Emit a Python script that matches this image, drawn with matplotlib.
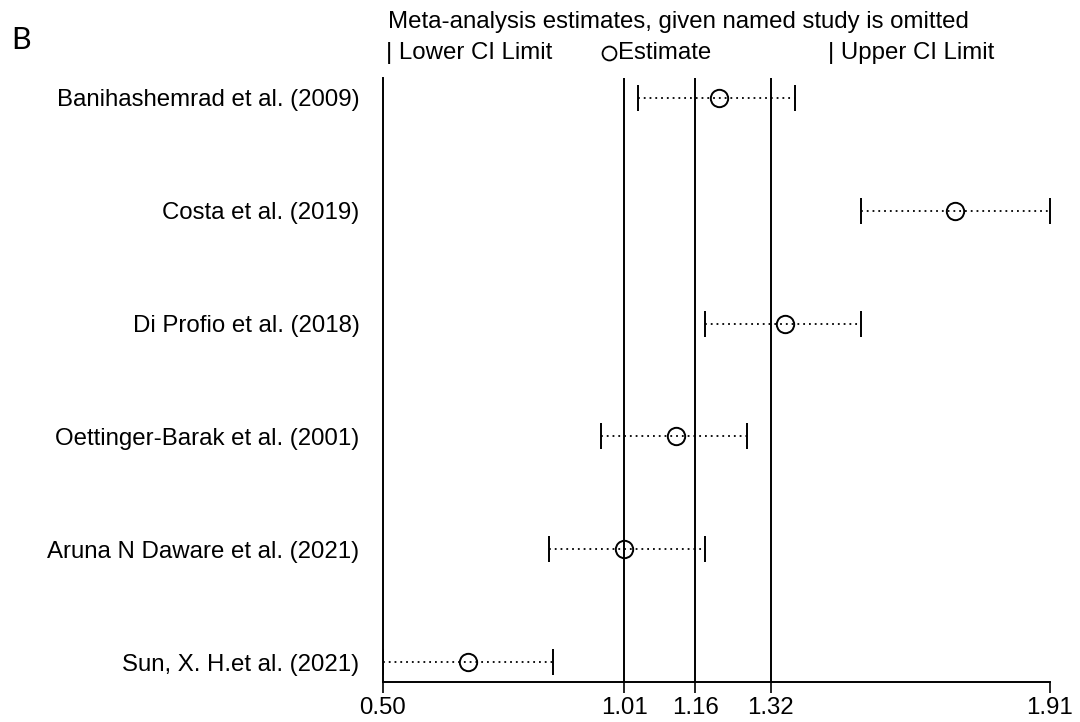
import matplotlib
matplotlib.use("Agg")
import matplotlib.pyplot as plt
from matplotlib.lines import Line2D

studies = ["Banihashemrad et al. (2009)", "Costa et al. (2019)", "Di Profio et al. (2018)",
           "Oettinger-Barak et al. (2001)", "Aruna N Daware et al. (2021)", "Sun, X. H.et al. (2021)"]
lower = [1.04, 1.51, 1.18, 0.96, 0.85, 0.50]
estimate = [1.21, 1.71, 1.35, 1.12, 1.01, 0.68]
upper = [1.37, 1.91, 1.51, 1.27, 1.18, 0.86]
ref_lines = [1.01, 1.16, 1.32]
xticks = [0.50, 1.01, 1.16, 1.32, 1.91]
xticklabels = ["0.50", "1.01", "1.16", "1.32", "1.91"]

plt.rcParams['font.family'] = ['Liberation Sans', 'DejaVu Sans']
FS = 17.3

fig = plt.figure(figsize=(10.8, 7.22), dpi=100)
ax = fig.add_axes([383/1080, 1-682/722, (1050-383)/1080, (682-78)/722])

n = len(studies)
ys = list(range(n))
for y, lo, est, up in zip(ys, lower, estimate, upper):
    ax.plot([lo, up], [y, y], color='black', linestyle=(0, (1, 2.2)), linewidth=1.3)
ax.plot(lower, ys, linestyle='none', marker='|', markersize=19, markeredgewidth=1.4, color='black')
ax.plot(upper, ys, linestyle='none', marker='|', markersize=19, markeredgewidth=1.4, color='black')
ax.plot(estimate, ys, linestyle='none', marker='o', markersize=12.5, markerfacecolor='none',
        markeredgecolor='black', markeredgewidth=1.4)
for r in ref_lines:
    ax.axvline(r, color='black', linewidth=1.4)

ax.set_xlim(0.50, 1.91)
ax.set_ylim(n - 1 + 0.177, -0.177)
ax.set_yticks(ys)
ax.set_yticklabels(studies, fontsize=FS)
ax.tick_params(axis='y', length=0, pad=17)
ax.set_xticks(xticks)
ax.set_xticklabels(xticklabels, fontsize=FS)
ax.tick_params(axis='x', length=8, width=1.2, pad=3)
for s in ['top', 'right']:
    ax.spines[s].set_visible(False)
for s in ['left', 'bottom']:
    ax.spines[s].set_linewidth(1.4)

fig.text(388/1080, 1-22/722, "Meta-analysis estimates, given named study is omitted",
         fontsize=FS, va='center', ha='left')
fig.text(386/1080, 1-53/722, "| Lower CI Limit", fontsize=FS, va='center', ha='left')
fig.add_artist(Line2D([609/1080], [1-53/722], transform=fig.transFigure, linestyle='none',
                      marker='o', markersize=10, markerfacecolor='none',
                      markeredgecolor='black', markeredgewidth=1.3))
fig.text(618/1080, 1-53/722, "Estimate", fontsize=FS, va='center', ha='left')
fig.text(828/1080, 1-53/722, "| Upper CI Limit", fontsize=FS, va='center', ha='left')
fig.text(11/1080, 1-40/722, "B", fontsize=22, va='center', ha='left', family=['Lato', 'DejaVu Sans'])

fig.savefig("out.png", dpi=100)
